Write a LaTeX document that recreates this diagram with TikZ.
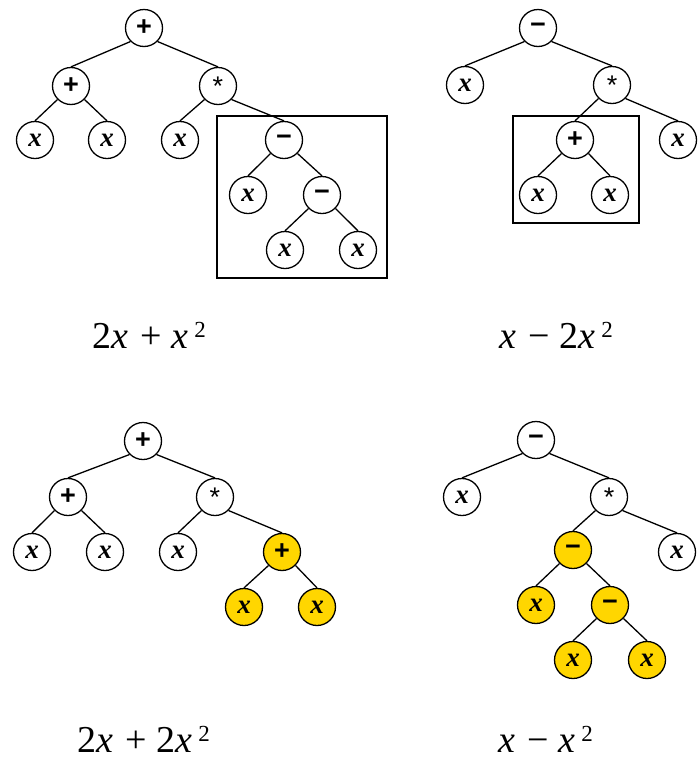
\documentclass[tikz,border=0pt]{standalone}
\usepackage{fontspec}
\setmainfont{Liberation Serif}
\newfontfamily\opfont{Liberation Sans}
\usetikzlibrary{positioning}
\definecolor{gold}{RGB}{255,214,0}
\newcommand{\vx}{\bfseries\itshape x}
\newcommand{\vplus}{\opfont\bfseries +}
\newcommand{\vminus}{\opfont\bfseries −}
\newcommand{\vmul}{\opfont *}
\newcommand{\sq}{\hspace{6pt}\raisebox{11pt}{\fontsize{23}{25}\selectfont 2}}
\newcommand{\bop}[1]{\hspace{12pt}#1\hspace{10pt}}
\tikzset{
	op/.style={circle, draw, line width=1.3pt, minimum size=37pt, inner sep=0pt, fill=white, font=\fontsize{27}{29}\selectfont},
	hl/.style={op, fill=gold},
	edge/.style={line width=1.3pt},
	frame/.style={draw, line width=1.3pt},
	formula/.style={anchor=base west, inner sep=0pt, font=\fontsize{38}{40}\selectfont}
}
\begin{document}
\begin{tikzpicture}[x=1pt, y=-1pt]
	\useasboundingbox (0,0) rectangle (700,761);
	% top left: 2x + x^2
	\draw[frame] (217,116) rectangle (387,278);
	\node[op] (a0) at (144,28) {\vplus};
	\node[op] (a1) at (71,86) {\vplus};
	\node[op] (a2) at (218,86) {\vmul};
	\node[op] (a3) at (35,140) {\vx};
	\node[op] (a4) at (107,140) {\vx};
	\node[op] (a5) at (180,140) {\vx};
	\node[op] (a6) at (284,140) {\vminus};
	\node[op] (a7) at (248,195) {\vx};
	\node[op] (a8) at (322,195) {\vminus};
	\node[op] (a9) at (285,250) {\vx};
	\node[op] (a10) at (358,250) {\vx};
	\draw[edge] (a0.south west) -- (a1.north);
	\draw[edge] (a0.south east) -- (a2.north);
	\draw[edge] (a1.south west) -- (a3.north);
	\draw[edge] (a1.south east) -- (a4.north);
	\draw[edge] (a2.south west) -- (a5.north);
	\draw[edge] (a2.south east) -- (a6.north);
	\draw[edge] (a6.south west) -- (a7.north);
	\draw[edge] (a6.south east) -- (a8.north);
	\draw[edge] (a8.south west) -- (a9.north);
	\draw[edge] (a8.south east) -- (a10.north);
	\node[formula] (fa) at (92,348) {2\textit{x}\bop{+}\textit{x}\sq};
	% top right: x - 2x^2
	\draw[frame] (513,116) rectangle (639,223);
	\node[op] (b0) at (538,28) {\vminus};
	\node[op] (b1) at (465,85) {\vx};
	\node[op] (b2) at (612,85) {\vmul};
	\node[op] (b3) at (575,140) {\vplus};
	\node[op] (b4) at (678,140) {\vx};
	\node[op] (b5) at (538,195) {\vx};
	\node[op] (b6) at (610,195) {\vx};
	\draw[edge] (b0.south west) -- (b1.north);
	\draw[edge] (b0.south east) -- (b2.north);
	\draw[edge] (b2.south west) -- (b3.north);
	\draw[edge] (b2.south east) -- (b4.north);
	\draw[edge] (b3.south west) -- (b5.north);
	\draw[edge] (b3.south east) -- (b6.north);
	\node[formula] (fb) at (499,348) {\textit{x}\bop{−}2\textit{x}\sq};
	% bottom left: 2x + 2x^2
	\node[op] (c0) at (143,441) {\vplus};
	\node[op] (c1) at (68,497) {\vplus};
	\node[op] (c2) at (215,497) {\vmul};
	\node[op] (c3) at (32,552) {\vx};
	\node[op] (c4) at (105,552) {\vx};
	\node[op] (c5) at (178,552) {\vx};
	\node[hl] (c6) at (282,552) {\vplus};
	\node[hl] (c7) at (244,607) {\vx};
	\node[hl] (c8) at (317,607) {\vx};
	\draw[edge] (c0.south west) -- (c1.north);
	\draw[edge] (c0.south east) -- (c2.north);
	\draw[edge] (c1.south west) -- (c3.north);
	\draw[edge] (c1.south east) -- (c4.north);
	\draw[edge] (c2.south west) -- (c5.north);
	\draw[edge] (c2.south east) -- (c6.north);
	\draw[edge] (c6.south west) -- (c7.north);
	\draw[edge] (c6.south east) -- (c8.north);
	\node[formula] (fc) at (77,752) {2\textit{x}\bop{+}2\textit{x}\sq};
	% bottom right: x - x^2
	\node[op] (d0) at (536,440) {\vminus};
	\node[op] (d1) at (462,497) {\vx};
	\node[op] (d2) at (609,497) {\vmul};
	\node[hl] (d3) at (573,550) {\vminus};
	\node[op] (d4) at (677,552) {\vx};
	\node[hl] (d5) at (536,605) {\vx};
	\node[hl] (d6) at (610,605) {\vminus};
	\node[hl] (d7) at (573,660) {\vx};
	\node[hl] (d8) at (647,660) {\vx};
	\draw[edge] (d0.south west) -- (d1.north);
	\draw[edge] (d0.south east) -- (d2.north);
	\draw[edge] (d2.south west) -- (d3.north);
	\draw[edge] (d2.south east) -- (d4.north);
	\draw[edge] (d3.south west) -- (d5.north);
	\draw[edge] (d3.south east) -- (d6.north);
	\draw[edge] (d6.south west) -- (d7.north);
	\draw[edge] (d6.south east) -- (d8.north);
	\node[formula] (fd) at (498,752) {\textit{x}\bop{−}\textit{x}\sq};
\end{tikzpicture}
\end{document}
